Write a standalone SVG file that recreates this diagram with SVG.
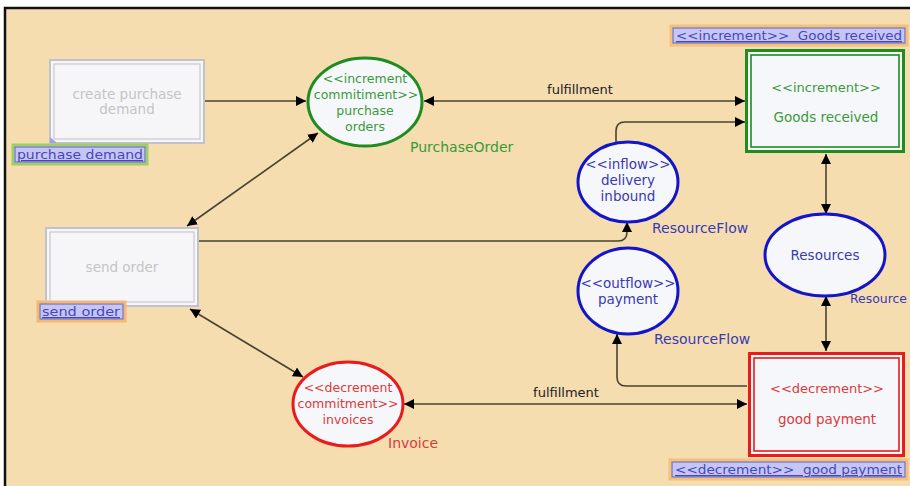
<svg xmlns="http://www.w3.org/2000/svg" width="910" height="486" viewBox="0 0 910 486">
<defs>
<marker id="ah" viewBox="0 0 10 10" refX="10" refY="5" markerWidth="10" markerHeight="10" markerUnits="userSpaceOnUse" orient="auto-start-reverse">
<path d="M0,0 L10,5 L0,10 Z" fill="#000"/>
</marker>
<style>
text{font-family:"DejaVu Sans","Liberation Sans",sans-serif}
.c{fill:none;stroke:#4a4232;stroke-width:1.6}
.gbox{fill:#f6f6f8;stroke:#c2c2cc;stroke-width:2}
.gin{fill:none;stroke:#c8c8d0;stroke-width:1.2}
.gt{fill:#c4c4c4;font-size:13.5px;text-anchor:middle}
.grn{fill:#f6f7fa;stroke:#1f8c1f;stroke-width:3}
.grnin{fill:none;stroke:#1f8c1f;stroke-width:1.6}
.red{fill:#f6f7fa;stroke:#e81c1c;stroke-width:3}
.redin{fill:none;stroke:#e81c1c;stroke-width:1.6}
.blu{fill:#f6f7fa;stroke:#1414c8;stroke-width:3}
.gtx{fill:#3a9a3a;text-anchor:middle}
.rtx{fill:#dc3a3a;text-anchor:middle}
.btx{fill:#3a3ab4;text-anchor:middle}
.et{font-size:12.5px}
.bt{font-size:13.5px}
.lbl{fill:#c6c6f4;stroke:#7070c4;stroke-width:1.2}
.lt{fill:#4646c0;font-size:13px;text-decoration:underline;white-space:pre}
.ct{fill:#222;font-size:13px;text-anchor:middle}
.st{font-size:14px}
</style>
</defs>
<rect x="0" y="0" width="910" height="486" fill="#ffffff"/>
<rect x="5" y="8" width="905" height="478" fill="#f5ddb0"/>
<path d="M5,486 V8 H910" fill="none" stroke="#111" stroke-width="2.5"/>

<g id="connectors">
<path class="c" d="M205,101 H306" marker-end="url(#ah)"/>
<path class="c" d="M318,133 L187,226" marker-start="url(#ah)" marker-end="url(#ah)"/>
<path class="c" d="M424,101 H745" marker-start="url(#ah)" marker-end="url(#ah)"/>
<path class="c" d="M199,241 H618 Q627,241 627,232 V222" marker-end="url(#ah)"/>
<path class="c" d="M616,143 V131 Q616,122 625,122 H745" marker-end="url(#ah)"/>
<path class="c" d="M826,154 V214" marker-start="url(#ah)" marker-end="url(#ah)"/>
<path class="c" d="M826,296 V351" marker-start="url(#ah)" marker-end="url(#ah)"/>
<path class="c" d="M747,386 H626 Q617,386 617,377 V334" marker-end="url(#ah)"/>
<path class="c" d="M404,404 H747" marker-start="url(#ah)" marker-end="url(#ah)"/>
<path class="c" d="M190,309 L303,377" marker-start="url(#ah)" marker-end="url(#ah)"/>
<text class="ct" x="580" y="94">fulfillment</text>
<text class="ct" x="566" y="397">fulfillment</text>
</g>

<g id="create-purchase-demand">
<rect class="gbox" x="50" y="60" width="154" height="83"/>
<rect class="gin" x="54" y="64" width="146" height="75"/>
<text class="gt" x="127" y="99">create purchase</text>
<text class="gt" x="127" y="114">demand</text>
<path d="M50,137 L50,143 L57,143 Z" fill="#a0a0e0"/>
</g>
<g id="label-purchase-demand">
<rect x="13" y="145" width="134" height="19" fill="none" stroke="#9ccf6a" stroke-width="3"/>
<rect class="lbl" x="15" y="147" width="130" height="15"/>
<text class="lt" x="17" y="159" textLength="126" lengthAdjust="spacingAndGlyphs">purchase demand</text>
</g>

<g id="purchase-orders">
<ellipse class="grn" cx="365" cy="102" rx="57" ry="44"/>
<text class="gtx et" x="365" y="83">&lt;&lt;increment</text>
<text class="gtx et" x="366" y="99">commitiment&gt;&gt;</text>
<text class="gtx et" x="365" y="115">purchase</text>
<text class="gtx et" x="365" y="131">orders</text>
<text class="st" fill="#3a9a3a" x="410" y="152">PurchaseOrder</text>
</g>

<g id="goods-received">
<rect class="grn" x="746.5" y="50.5" width="157" height="101"/>
<rect class="grnin" x="751" y="55" width="148" height="92"/>
<text class="gtx" font-size="13px" x="826" y="92">&lt;&lt;increment&gt;&gt;</text>
<text class="gtx" font-size="13.5px" x="826" y="122">Goods received</text>
</g>
<g id="label-goods-received">
<rect x="671" y="26" width="236" height="19" fill="none" stroke="#f6c07a" stroke-width="3"/>
<rect class="lbl" x="673" y="28" width="232" height="15"/>
<text class="lt" x="676" y="40" textLength="226" lengthAdjust="spacingAndGlyphs">&lt;&lt;increment&gt;&gt;  Goods received</text>
</g>

<g id="delivery-inbound">
<ellipse class="blu" cx="628" cy="182" rx="50" ry="40"/>
<text class="btx bt" x="628" y="169">&lt;&lt;inflow&gt;&gt;</text>
<text class="btx bt" x="628" y="185">delivery</text>
<text class="btx bt" x="628" y="201">inbound</text>
<text class="st" fill="#3a3ab4" x="652" y="233">ResourceFlow</text>
</g>

<g id="resources">
<ellipse class="blu" cx="825" cy="255" rx="60" ry="41"/>
<text class="btx" font-size="13.5px" x="825" y="260">Resources</text>
<text fill="#3a3ab4" font-size="13px" x="850" y="303" textLength="57" lengthAdjust="spacingAndGlyphs">Resource</text>
</g>

<g id="payment">
<ellipse class="blu" cx="628" cy="291" rx="50" ry="43"/>
<text class="btx bt" x="628" y="288">&lt;&lt;outflow&gt;&gt;</text>
<text class="btx bt" x="628" y="304">payment</text>
<text class="st" fill="#3a3ab4" x="654" y="344">ResourceFlow</text>
</g>

<g id="send-order">
<rect class="gbox" x="46" y="228" width="152" height="78"/>
<rect class="gin" x="50" y="232" width="144" height="70"/>
<text class="gt" x="122" y="272">send order</text>
</g>
<g id="label-send-order">
<rect x="38" y="302" width="87" height="19" fill="none" stroke="#f6b870" stroke-width="3"/>
<rect class="lbl" x="40" y="304" width="83" height="15"/>
<text class="lt" x="42" y="316" textLength="78" lengthAdjust="spacingAndGlyphs">send order</text>
</g>

<g id="invoices">
<ellipse class="red" cx="348" cy="404" rx="55" ry="42"/>
<text class="rtx et" x="348" y="392">&lt;&lt;decrement</text>
<text class="rtx et" x="348" y="408">commitment&gt;&gt;</text>
<text class="rtx et" x="348" y="424">invoices</text>
<text class="st" fill="#dc3a3a" x="388" y="448">Invoice</text>
</g>

<g id="good-payment">
<rect class="red" x="749.5" y="353.5" width="154" height="102"/>
<rect class="redin" x="754" y="358" width="145" height="93"/>
<text class="rtx" font-size="13px" x="827" y="393">&lt;&lt;decrement&gt;&gt;</text>
<text class="rtx" font-size="13.5px" x="827" y="424">good payment</text>
</g>
<g id="label-good-payment">
<rect x="670" y="460" width="237" height="19" fill="none" stroke="#f6c07a" stroke-width="3"/>
<rect class="lbl" x="672" y="462" width="233" height="15"/>
<text class="lt" x="675" y="474" textLength="227" lengthAdjust="spacingAndGlyphs">&lt;&lt;decrement&gt;&gt;  good payment</text>
</g>
</svg>
